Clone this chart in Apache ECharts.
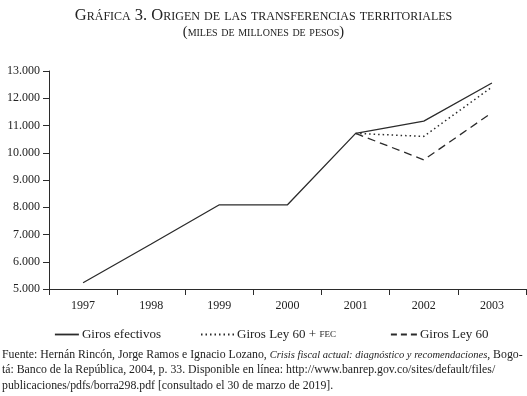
<!DOCTYPE html>
<html>
<head>
<meta charset="utf-8">
<script src="https://cdn.jsdelivr.net/npm/echarts@6/dist/echarts.min.js"></script>
<style>
  html, body { margin: 0; padding: 0; background: #fff; }
  #chart { width: 527px; height: 396px; }
</style>
</head>
<body>
<div id="chart"></div>
<script>
// datos
var years = ['1997', '1998', '1999', '2000', '2001', '2002', '2003'];
var girosEfectivos = [5230, 6650, 8090, 8090, 10710, 11160, 12560];
var girosLey60Fec = [null, null, null, null, 10710, 10600, 12410];
var girosLey60 = [null, null, null, null, 10710, 9740, 11470];
var yTicks = { min: 5000, max: 13000, step: 1000 };

var serif = '"Liberation Serif", "DejaVu Serif", serif';
var ink = '#2b2b2b';

function miles(v) {
  // separador de miles con punto
  return String(v).replace(/\B(?=(\d{3})+(?!\d))/g, '.');
}

function titleStyle(size) {
  return {
    fontFamily: serif,
    fontStyle: 'small-caps',
    fontWeight: 'normal',
    fontSize: size,
    color: '#222'
  };
}

var legendBase = {
  top: 328,
  itemHeight: 10,
  itemGap: 0,
  padding: 0,
  itemStyle: { opacity: 0 },
  textStyle: {
    fontFamily: serif,
    fontSize: 13,
    color: '#222',
    padding: [0, 0, 0, -2],
    rich: {
      sc: { fontFamily: serif, fontSize: 9, color: '#222' }
    }
  },
  formatter: function (name) {
    if (name === 'Giros Ley 60 + FEC') return 'Giros Ley 60 + {sc|FEC}';
    return name;
  }
};

var chart = echarts.init(document.getElementById('chart'));

var option = {
  backgroundColor: '#fff',
  animation: false,
  title: [
    {
      text: 'Gráfica 3. Origen de las transferencias territoriales',
      left: 'center',
      top: 7,
      padding: 0,
      textStyle: titleStyle(16.5)
    },
    {
      text: '(miles de millones de pesos)',
      left: 'center',
      top: 25,
      padding: 0,
      textStyle: titleStyle(14.5)
    },
    {
      text: 'Fuente: Hernán Rincón, Jorge Ramos e Ignacio Lozano, {i|Crisis fiscal actual: diagnóstico y recomendaciones}, Bogo-\n' +
            'tá: Banco de la República, 2004, p. 33. Disponible en línea: http://www.banrep.gov.co/sites/default/files/\n' +
            'publicaciones/pdfs/borra298.pdf [consultado el 30 de marzo de 2019].',
      left: 2,
      top: 347,
      padding: 0,
      textStyle: {
        fontFamily: serif,
        fontWeight: 'normal',
        fontSize: 11.8,
        lineHeight: 15.5,
        color: '#222',
        rich: {
          i: { fontFamily: serif, fontStyle: 'italic', fontSize: 10.5, lineHeight: 15.5, color: '#222' }
        }
      }
    }
  ],
  legend: [
    Object.assign({}, legendBase, { left: 54, itemWidth: 24, lineStyle: { width: 1.8 }, data: ['Giros efectivos'] }),
    Object.assign({}, legendBase, { left: 200, itemWidth: 33, data: ['Giros Ley 60 + FEC'] }),
    Object.assign({}, legendBase, { left: 390, itemWidth: 26, lineStyle: { width: 1.8, type: [6, 4] }, data: ['Giros Ley 60'] })
  ],
  grid: {
    left: 49,
    right: 1,
    top: 71,
    bottom: 107
  },
  xAxis: {
    type: 'category',
    data: years,
    boundaryGap: true,
    axisLine: { lineStyle: { color: ink, width: 1 } },
    axisTick: { show: true, inside: false, length: 6, lineStyle: { color: ink } },
    axisLabel: {
      margin: 11,
      fontFamily: serif,
      fontSize: 12,
      color: '#222'
    },
    splitLine: { show: false }
  },
  yAxis: {
    type: 'value',
    min: yTicks.min,
    max: yTicks.max,
    interval: yTicks.step,
    axisLine: { show: true, lineStyle: { color: ink, width: 1 } },
    axisTick: { show: true, inside: false, length: 6, lineStyle: { color: ink } },
    axisLabel: {
      margin: 9,
      fontFamily: serif,
      fontSize: 12,
      color: '#222',
      formatter: miles
    },
    splitLine: { show: false }
  },
  series: [
    {
      name: 'Giros efectivos',
      type: 'line',
      data: girosEfectivos,
      symbol: 'none',
      itemStyle: { color: ink },
      lineStyle: { color: ink, width: 1.3, type: 'solid' },
      z: 3
    },
    {
      name: 'Giros Ley 60 + FEC',
      type: 'line',
      data: girosLey60Fec,
      symbol: 'none',
      itemStyle: { color: ink },
      lineStyle: { color: ink, width: 1.5, type: [1.5, 3] },
      z: 2
    },
    {
      name: 'Giros Ley 60',
      type: 'line',
      data: girosLey60,
      symbol: 'none',
      itemStyle: { color: ink },
      lineStyle: { color: ink, width: 1.3, type: [8, 5] },
      z: 2
    }
  ]
};

chart.setOption(option);
</script>
</body>
</html>
